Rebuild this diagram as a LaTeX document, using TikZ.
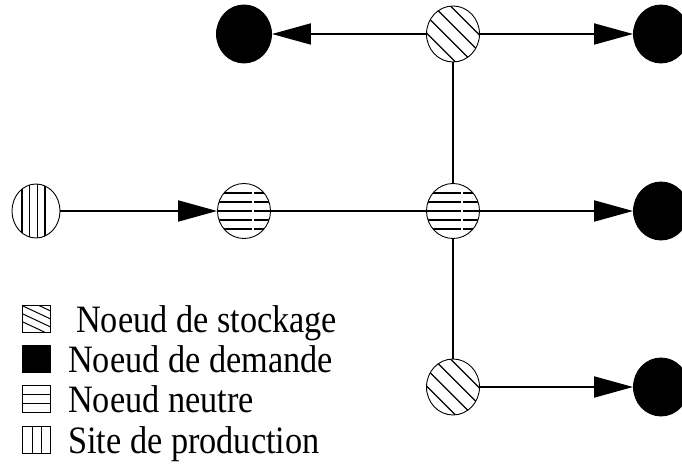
\documentclass[tikz,border=0pt]{standalone}
\usepackage{fontspec}
\setmainfont{Liberation Serif}
\usetikzlibrary{arrows.meta, shapes.geometric}

\tikzset{
  site/.style={ellipse, draw, line width=0.9bp, inner sep=0pt,
               minimum width=53bp, minimum height=56bp},
  stock/.style={site, path picture={
      \begin{scope}[shift={(path picture bounding box.center)}]
        \foreach \c in {-25.5, -8.5, 8.5, 25.5}
          \draw[line width=1.3bp] (\c - 40, 40) -- (\c + 40, -40);
      \end{scope}}},
  neutre/.style={site, minimum height=55bp, path picture={
      \begin{scope}[shift={(path picture bounding box.center)}]
        \foreach \h in {-18, -9, 0, 9, 18}
          \draw[line width=1.8bp] (-30, \h) -- (30, \h);
        \draw[white, line width=1.2bp] (9, -30) -- (9, 30);
      \end{scope}}},
  prod/.style={site, minimum width=48bp, minimum height=54bp, path picture={
      \begin{scope}[shift={(path picture bounding box.center)}]
        \foreach \v in {-14, -6.5, 1.5, 9}
          \draw[line width=1.3bp] (\v, -30) -- (\v, 30);
      \end{scope}}},
  demande/.style={site, fill=black, minimum width=55bp, minimum height=58bp},
  link/.style={line width=1.8bp},
  flow/.style={link, -{Triangle[length=39bp, width=21bp]}},
  keybox/.style={rectangle, draw, line width=1.1bp, inner sep=0pt, anchor=south west,
                 minimum width=27.7bp, minimum height=26.5bp},
  keytext/.style={anchor=base west, inner sep=0pt,
                  font=\fontsize{34.3bp}{40bp}\selectfont, yscale=1.13, transform shape}
}

\begin{document}
\begin{tikzpicture}[x=1bp, y=1bp]

  \useasboundingbox (0, 0) rectangle (682, 464);

  % network
  \node[stock]   (S1) at (453, 430) {};
  \node[demande] (D1) at (244, 430) {};
  \node[demande] (D2) at (661, 430) {};
  \node[prod]    (P)  at (36, 253) {};
  \node[neutre]  (N1) at (244, 253) {};
  \node[neutre]  (N2) at (453, 253) {};
  \node[demande] (D3) at (661, 253) {};
  \node[stock]   (S2) at (453, 77) {};
  \node[demande] (D4) at (661, 77) {};

  \draw[flow] (S1) -- (D1);
  \draw[flow] (S1) -- (D2);
  \draw[link] (S1) -- (N2);
  \draw[flow] (P) -- (N1);
  \draw[link] (N1) -- (N2);
  \draw[flow] (N2) -- (D3);
  \draw[link] (N2) -- (S2);
  \draw[flow] (S2) -- (D4);

  % legend
  \node[keybox, path picture={
      \begin{scope}[shift={(path picture bounding box.center)}]
        \foreach \c in {14.75, 6.75, -1.25, -9.25}
          \draw[line width=1bp] (-20, \c + 9.4) -- (20, \c - 9.4);
      \end{scope}}] (k1) at (22.3, 131) {};
  \node[keybox, fill=black] (k2) at (22.3, 91) {};
  \node[keybox, path picture={
      \begin{scope}[shift={(path picture bounding box.center)}]
        \foreach \h in {-4.4, 4.4}
          \draw[line width=1.1bp] (-20, \h) -- (20, \h);
      \end{scope}}] (k3) at (22.3, 51) {};
  \node[keybox, path picture={
      \begin{scope}[shift={(path picture bounding box.center)}]
        \foreach \v in {-4.6, 4.6}
          \draw[line width=1.1bp] (\v, -20) -- (\v, 20);
      \end{scope}}] (k4) at (22.3, 10) {};

  \foreach \x/\y/\txt [count=\n] in {76/131/Noeud de stockage, 68/91/Noeud de demande,
                                     68/51/Noeud neutre, 68/10/Site de production} {
    \node[keytext] (t\n) at (\x, \y) {\txt};
  }

\end{tikzpicture}
\end{document}
